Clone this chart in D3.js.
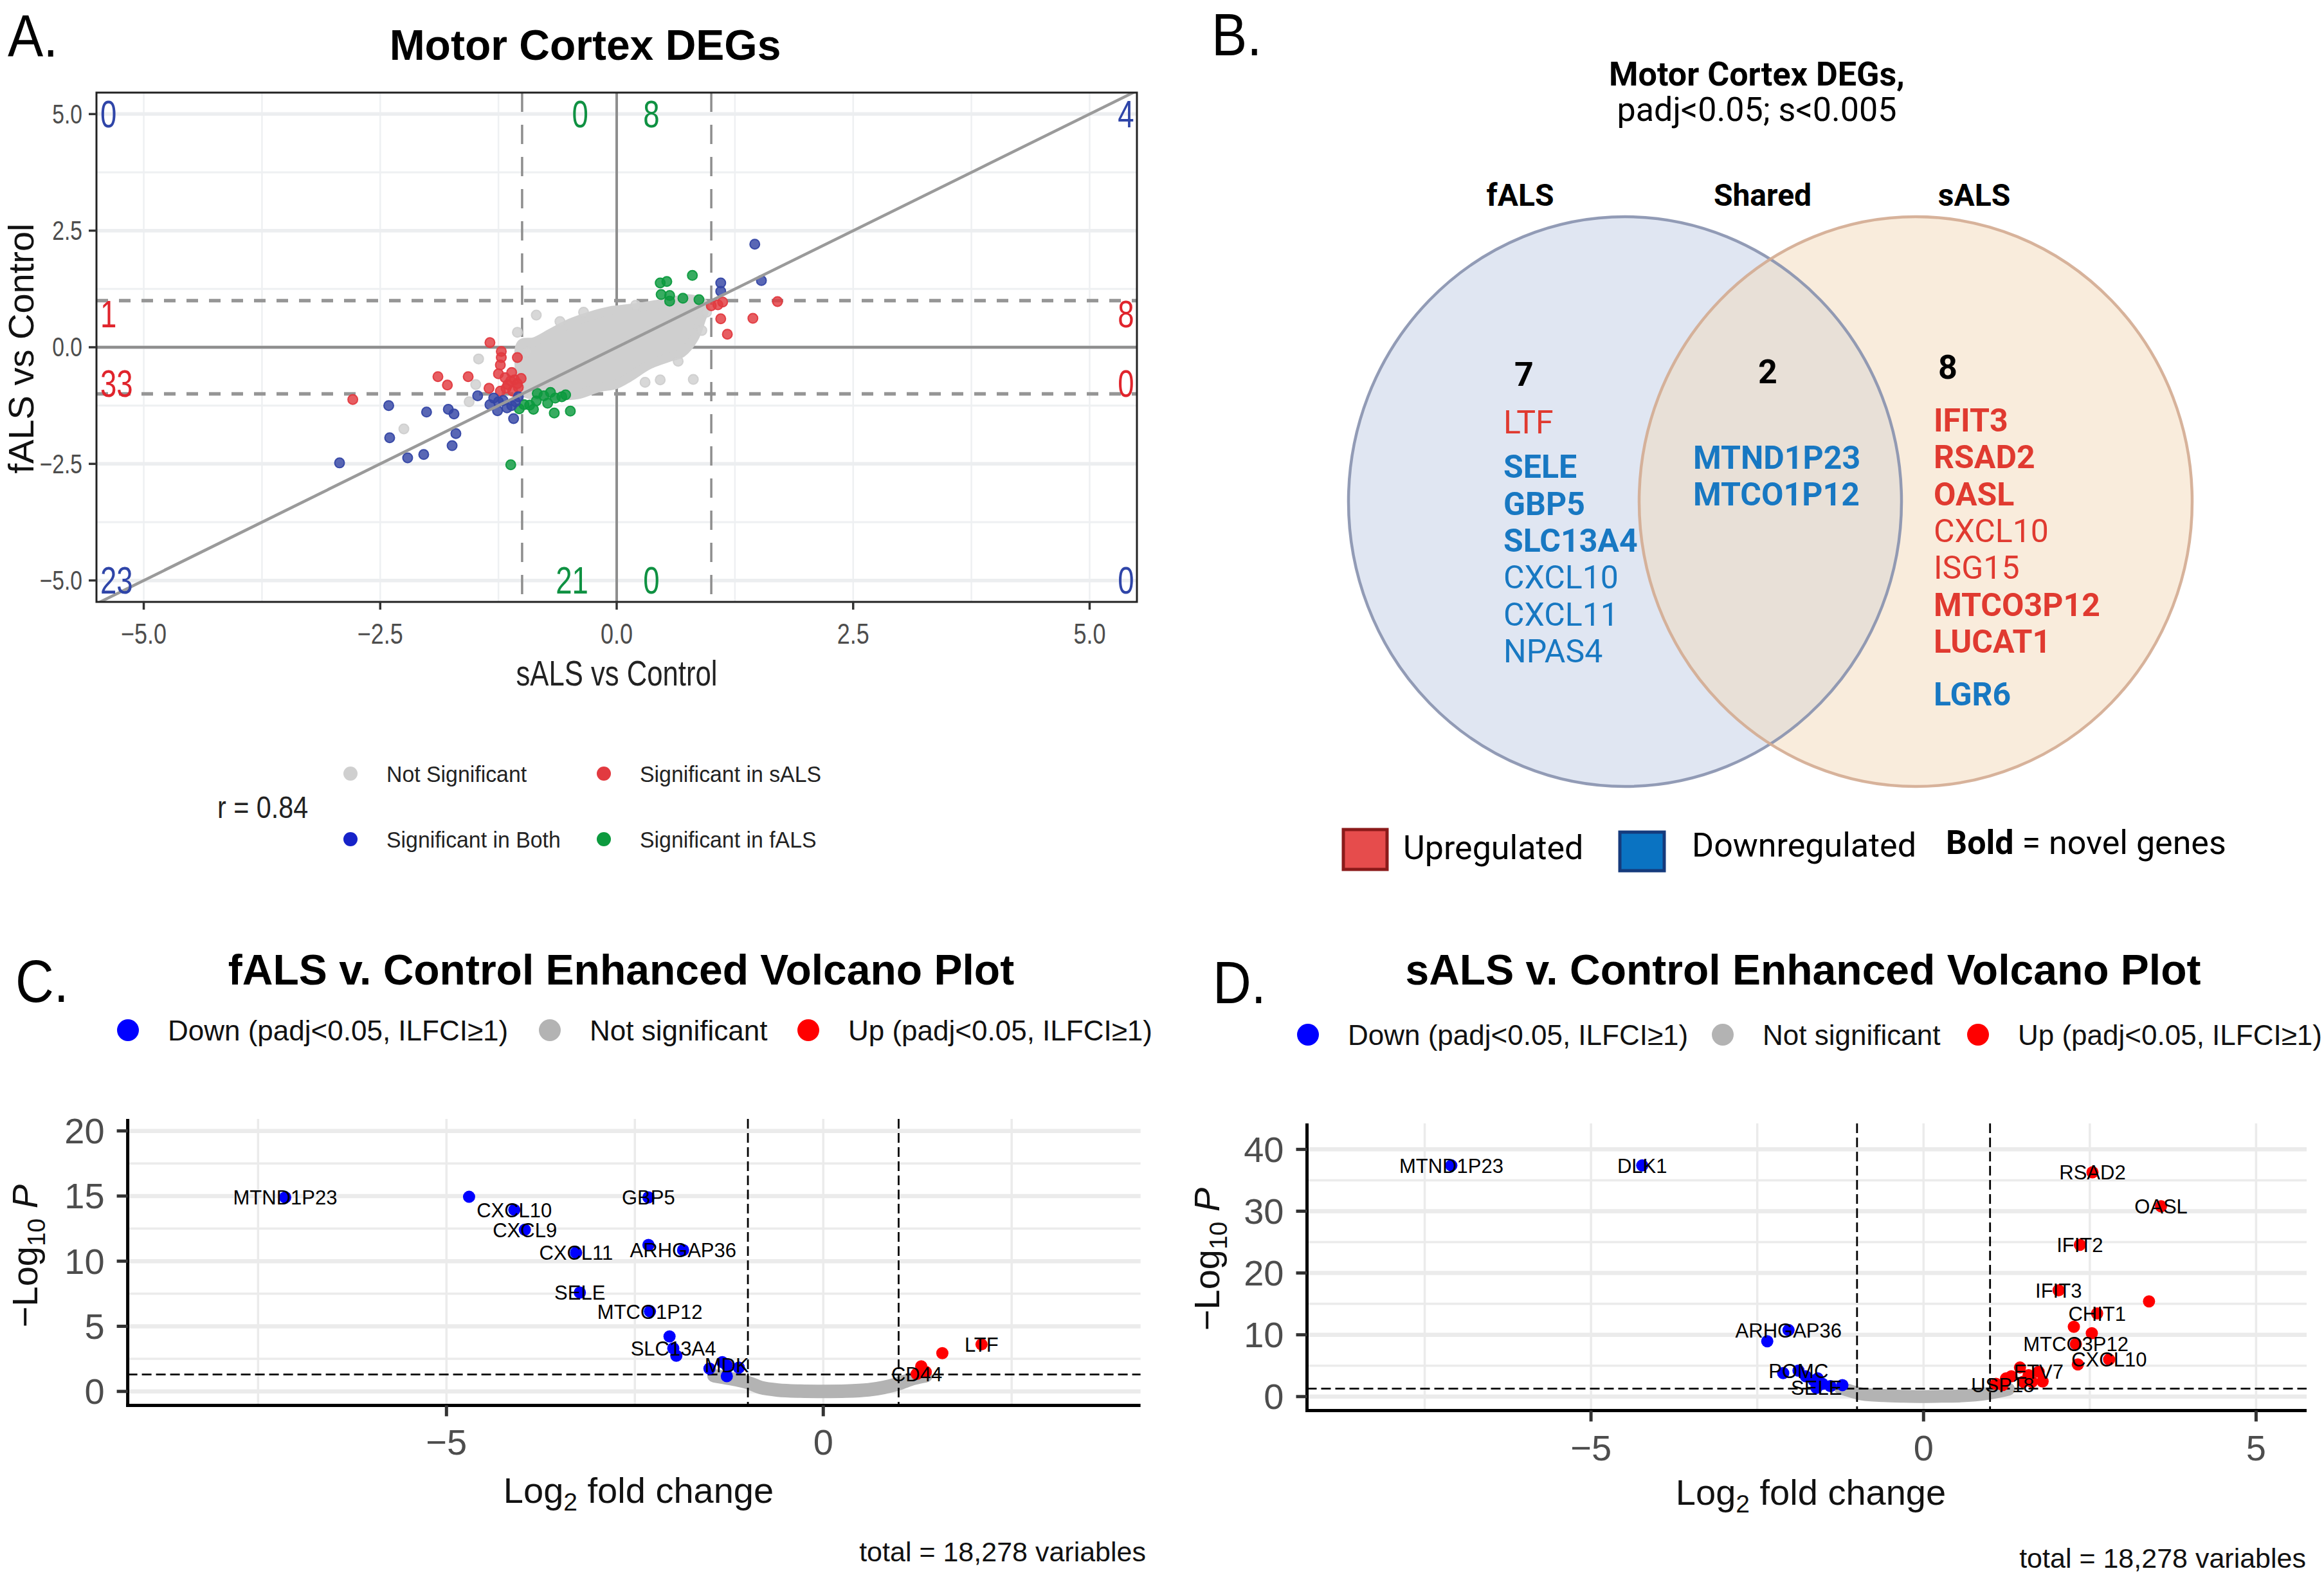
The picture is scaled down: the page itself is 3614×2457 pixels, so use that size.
<!DOCTYPE html>
<html>
<head>
<meta charset="utf-8">
<script src="https://cdn.jsdelivr.net/npm/d3@7"></script>
<style>body{margin:0;background:#fff}</style>
</head>
<body>
<div id="wrapper"></div>
<script>
// ---------- Panel A: log2FC sALS vs Control (x) against fALS vs Control (y)
const scatterTicks = [-5, -2.5, 0, 2.5, 5];
const sigBoth = [[1.46,2.21],[1.53,1.43],[1.10,1.38],[1.10,1.20],
  [-2.93,-2.48],[-2.41,-1.25],[-2.40,-1.94],[-2.21,-2.37],[-2.04,-2.30],[-2.01,-1.39],
  [-1.78,-1.33],[-1.72,-1.43],[-1.70,-1.85],[-1.74,-2.11],[-1.47,-1.04],[-1.30,-1.09],
  [-1.34,-1.23],[-1.26,-1.36],[-1.09,-1.53],[-1.11,-1.25],[-1.20,-1.14],[-1.04,-1.06],
  [-1.16,-1.30],[-1.25,-1.17],[-1.07,-1.17]];
const sigSALS = [[-2.79,-1.12],[-1.89,-0.63],[-1.79,-0.81],[-1.57,-0.63],[-1.34,0.10],
  [-1.22,-0.09],[-1.22,-0.22],[-1.05,-0.22],[-1.23,-0.38],[-1.25,-0.57],[-1.11,-0.54],
  [-1.08,-0.70],[-1.01,-0.67],[-1.15,-0.80],[-1.04,-0.86],[-1.35,-0.88],[-1.23,-0.94],
  [-1.10,-0.94],[-1.18,-0.65],[-1.12,-0.72],[-1.05,-0.78],[-1.17,-0.88],
  [1.00,0.89],[1.07,0.91],[1.12,0.97],[1.70,0.98],[1.10,0.61],[1.44,0.62],[1.17,0.28]];
const sigFALS = [[0.80,1.54],[0.46,1.38],[0.53,1.41],[0.47,1.13],[0.56,1.11],[0.56,0.99],
  [0.70,1.05],[0.87,1.02],[-1.12,-2.52],[-1.03,-1.32],[-0.92,-1.24],[-0.88,-1.33],
  [-0.84,-0.99],[-0.77,-1.04],[-0.73,-1.20],[-0.66,-1.41],[-0.65,-1.09],[-0.58,-1.06],
  [-0.54,-1.02],[-0.49,-1.37],[-0.70,-0.97],[-0.98,-1.23],[-0.85,-1.15]];
const notSig = [[-0.85,0.69],[-1.05,0.32],[-1.46,-0.25],[-1.49,-0.80],[-1.56,-1.17],
  [-2.25,-1.75],[0.81,-0.69],[0.46,-0.70],[0.65,-0.30],[0.90,0.36],[-0.60,0.55],
  [-0.35,0.75],[0.20,0.90],[0.95,0.75],[-0.95,-0.10],[0.30,-0.75]];
// outline of the dense cloud of non-significant genes
const notSigCloud = [[-1.01,0.07],[-0.87,0.12],[-0.70,0.30],[-0.49,0.52],[-0.28,0.67],
  [-0.07,0.78],[0.13,0.83],[0.34,0.89],[0.55,0.97],[0.76,1.04],[0.93,0.91],[0.89,0.57],
  [0.82,0.20],[0.69,-0.12],[0.55,-0.22],[0.34,-0.38],[0.13,-0.65],[-0.01,-0.80],
  [-0.18,-0.86],[-0.42,-1.02],[-0.70,-1.04],[-0.91,-1.02],[-1.01,-0.91],[-1.03,-0.49]];
const quadCounts = [
  {x:-5.46, y:5, n:"0", k:"both", a:"start"}, {x:-0.30, y:5, n:"0", k:"fals", a:"end"},
  {x:0.28, y:5, n:"8", k:"fals", a:"start"}, {x:5.47, y:5, n:"4", k:"both", a:"end"},
  {x:-5.46, y:0.72, n:"1", k:"sals", a:"start"}, {x:5.47, y:0.72, n:"8", k:"sals", a:"end"},
  {x:-5.46, y:-0.77, n:"33", k:"sals", a:"start"}, {x:5.47, y:-0.77, n:"0", k:"sals", a:"end"},
  {x:-5.46, y:-5, n:"23", k:"both", a:"start"}, {x:-0.30, y:-5, n:"21", k:"fals", a:"end"},
  {x:0.28, y:-5, n:"0", k:"fals", a:"start"}, {x:5.47, y:-5, n:"0", k:"both", a:"end"}];
const correlation = 0.84;

// ---------- Panel B: Venn lists
const fALSOnly = [{g:"LTF",d:"up",b:false},{g:"SELE",d:"down",b:true},{g:"GBP5",d:"down",b:true},
  {g:"SLC13A4",d:"down",b:true},{g:"CXCL10",d:"down",b:false},{g:"CXCL11",d:"down",b:false},
  {g:"NPAS4",d:"down",b:false}];
const sharedGenes = [{g:"MTND1P23",d:"down",b:true},{g:"MTCO1P12",d:"down",b:true}];
const sALSOnly = [{g:"IFIT3",d:"up",b:true},{g:"RSAD2",d:"up",b:true},{g:"OASL",d:"up",b:true},
  {g:"CXCL10",d:"up",b:false},{g:"ISG15",d:"up",b:false},{g:"MTCO3P12",d:"up",b:true},
  {g:"LUCAT1",d:"up",b:true},{g:"LGR6",d:"down",b:true}];

// ---------- Panel C: fALS v. Control volcano (log2FC, -log10 P)
const fDown = [{x:-7.14,y:14.9,l:"MTND1P23"},{x:-4.70,y:14.94},{x:-4.10,y:13.94,l:"CXCL10"},
  {x:-3.96,y:12.41,l:"CXCL9"},{x:-3.28,y:10.65,l:"CXCL11"},{x:-2.32,y:14.9,l:"GBP5"},
  {x:-2.32,y:11.24},{x:-1.86,y:10.85,l:"ARHGAP36"},{x:-3.23,y:7.59,l:"SELE"},
  {x:-2.30,y:6.14,l:"MTCO1P12"},{x:-2.04,y:4.22},{x:-1.99,y:3.31,l:"SLC13A4"},
  {x:-1.95,y:2.74},{x:-1.51,y:1.75},{x:-1.34,y:2.25},{x:-1.28,y:2.0,l:"MDK"},
  {x:-1.12,y:1.83},{x:-1.28,y:1.17}];
const fUp = [{x:2.10,y:3.61,l:"LTF"},{x:1.58,y:2.94},{x:1.30,y:1.92},{x:1.36,y:1.5},
  {x:1.24,y:1.34,l:"CD44"}];
const fNS = [[-1.45,1.2],[-1.25,1.0],[-1.0,0.68],[-0.83,0.3],[-0.6,0.1],[-0.3,0.02],[0,0],
  [0.3,0.02],[0.6,0.12],[0.8,0.3],[1.0,0.6],[1.2,1.0],[1.36,1.2]];

// ---------- Panel D: sALS v. Control volcano
const sDown = [{x:-7.10,y:37.4,l:"MTND1P23"},{x:-4.23,y:37.4,l:"DLK1"},
  {x:-2.03,y:10.76,l:"ARHGAP36"},{x:-2.35,y:8.95},{x:-2.11,y:3.80},{x:-1.88,y:4.2,l:"POMC"},
  {x:-1.77,y:3.28},{x:-1.65,y:2.6},{x:-1.59,y:2.93},{x:-1.52,y:2.07},{x:-1.40,y:1.7},
  {x:-1.22,y:1.86},{x:-1.61,y:1.4,l:"SELE"}];
const sUp = [{x:2.54,y:36.3,l:"RSAD2"},{x:3.57,y:30.8,l:"OASL"},{x:2.35,y:24.55,l:"IFIT2"},
  {x:2.03,y:17.2,l:"IFIT3"},{x:3.39,y:15.4},{x:2.61,y:13.45,l:"CHIT1"},{x:2.26,y:11.3},
  {x:2.53,y:10.26},{x:2.29,y:8.5,l:"MTCO3P12"},{x:2.79,y:6.0,l:"CXCL10"},{x:2.32,y:5.2},
  {x:1.45,y:4.7},{x:1.79,y:2.45},{x:1.09,y:2.07},{x:1.24,y:2.93},{x:1.32,y:3.28},
  {x:1.50,y:2.4},{x:1.58,y:3.46},{x:1.63,y:2.4},{x:1.73,y:4.0,l:"ETV7"},{x:1.19,y:1.88,l:"USP18"}];
const sNS = [[-1.25,1.4],[-1.1,0.9],[-0.92,0.4],[-0.6,0.15],[-0.3,0.05],[0,0],[0.3,0.05],
  [0.63,0.15],[0.9,0.4],[1.07,0.7],[1.28,1.2]];

const legendLabels = ["Down (padj<0.05, ILFCI\u22651)", "Not significant", "Up (padj<0.05, ILFCI\u22651)"];
const totalVariables = 18278;

// ------------------------------------------------------------------
const W = 3614, H = 2457;
const SANS = "'Liberation Sans', Arial, Helvetica, sans-serif";
const ROBOTO = "Roboto, 'Liberation Sans', sans-serif";
const NARROW = 0.8; // horizontal squeeze used for the condensed labels of panel A

const svg = d3.select("#wrapper").append("svg")
  .attr("width", W).attr("height", H)
  .style("background", "#fff");

function txt(g, x, y, s, o = {}) {
  const t = g.append("text")
    .attr("font-family", o.family || SANS)
    .attr("font-size", o.size || 40)
    .attr("font-weight", o.weight || "normal")
    .attr("fill", o.fill || "#000")
    .attr("text-anchor", o.anchor || "start")
    .attr("dominant-baseline", o.base || "auto")
    .text(s);
  if (o.sx) t.attr("transform", `translate(${x},${y}) scale(${o.sx},1)`);
  else t.attr("x", x).attr("y", y);
  return t;
}

// =================== Panel A ===================
const gA = svg.append("g");
const ax = d3.scaleLinear().domain([-5.5, 5.5]).range([150, 1768]);
const ay = d3.scaleLinear().domain([-5.46, 5.46]).range([936, 144]);
const minorA = d3.pairs(scatterTicks).map(p => (p[0] + p[1]) / 2);
const colA = {both: "#3446a5", sals: "#e23a40", fals: "#0c9a3e", ns: "#cfcfcf"};
const cntCol = {both: "#2f45a8", sals: "#e0242c", fals: "#0f9142"};

gA.append("clipPath").attr("id", "clipA").append("rect")
  .attr("x", ax(-5.5)).attr("y", ay(5.46)).attr("width", ax(5.5) - ax(-5.5)).attr("height", ay(-5.46) - ay(5.46));

const gridA = gA.append("g");
gridA.selectAll(".vmin").data(minorA.concat(scatterTicks)).join("line")
  .attr("x1", d => ax(d)).attr("x2", d => ax(d)).attr("y1", ay(5.46)).attr("y2", ay(-5.46))
  .attr("stroke", "#eef0f2").attr("stroke-width", 2.5);
gridA.selectAll(".hmin").data(minorA).join("line")
  .attr("y1", d => ay(d)).attr("y2", d => ay(d)).attr("x1", ax(-5.5)).attr("x2", ax(5.5))
  .attr("stroke", "#eef0f2").attr("stroke-width", 3);
gridA.selectAll(".hmaj").data(scatterTicks).join("line")
  .attr("y1", d => ay(d)).attr("y2", d => ay(d)).attr("x1", ax(-5.5)).attr("x2", ax(5.5))
  .attr("stroke", "#eceef0").attr("stroke-width", 5.5);

const plotA = gA.append("g").attr("clip-path", "url(#clipA)");
// zero lines
plotA.append("line").attr("x1", ax(0)).attr("x2", ax(0)).attr("y1", ay(5.46)).attr("y2", ay(-5.46))
  .attr("stroke", "#8e8e8e").attr("stroke-width", 4);
plotA.append("line").attr("y1", ay(0)).attr("y2", ay(0)).attr("x1", ax(-5.5)).attr("x2", ax(5.5))
  .attr("stroke", "#8e8e8e").attr("stroke-width", 4.5);
// thresholds
[-1, 1].forEach(v => {
  plotA.append("line").attr("x1", ax(v)).attr("x2", ax(v)).attr("y1", ay(5.46)).attr("y2", ay(-5.46))
    .attr("stroke", "#8e8e8e").attr("stroke-width", 3.5).attr("stroke-dasharray", "30,20");
  plotA.append("line").attr("y1", ay(v)).attr("y2", ay(v)).attr("x1", ax(-5.5)).attr("x2", ax(5.5))
    .attr("stroke", "#969696").attr("stroke-width", 5.5).attr("stroke-dasharray", "18,17");
});
// cloud
plotA.append("path").datum(notSigCloud)
  .attr("d", d3.line().x(d => ax(d[0])).y(d => ay(d[1])).curve(d3.curveCatmullRomClosed))
  .attr("fill", colA.ns).attr("stroke", colA.ns).attr("stroke-width", 14).attr("stroke-linejoin", "round");
function dotsA(data, c) {
  plotA.append("g").selectAll("circle").data(data).join("circle")
    .attr("cx", d => ax(d[0])).attr("cy", d => ay(d[1])).attr("r", 7.5)
    .attr("fill", c).attr("fill-opacity", 0.82)
    .attr("stroke", c).attr("stroke-width", 2).attr("stroke-opacity", 0.95);
}
dotsA(notSig, colA.ns);
dotsA(sigSALS, colA.sals);
dotsA(sigFALS, colA.fals);
dotsA(sigBoth, colA.both);
// identity line
plotA.append("line").attr("x1", ax(-5.5)).attr("y1", ay(-5.5)).attr("x2", ax(5.5)).attr("y2", ay(5.5))
  .attr("stroke", "#9a9a9a").attr("stroke-width", 4.5);
// counts
quadCounts.forEach(q => {
  txt(gA, ax(q.x), ay(q.y), q.n, {size: 60, sx: 0.76, fill: cntCol[q.k], anchor: q.a, base: "central"});
});
// border
gA.append("rect").attr("x", ax(-5.5)).attr("y", ay(5.46)).attr("width", ax(5.5) - ax(-5.5))
  .attr("height", ay(-5.46) - ay(5.46)).attr("fill", "none").attr("stroke", "#222").attr("stroke-width", 3);
// ticks
const fmtA = d3.format(".1f");
scatterTicks.forEach(t => {
  gA.append("line").attr("x1", ax(t)).attr("x2", ax(t)).attr("y1", ay(-5.46)).attr("y2", ay(-5.46) + 12)
    .attr("stroke", "#333").attr("stroke-width", 3.5);
  txt(gA, ax(t), 1001, fmtA(t), {size: 45, sx: NARROW, fill: "#4d4d4d", anchor: "middle"});
  gA.append("line").attr("x1", ax(-5.5) - 12).attr("x2", ax(-5.5)).attr("y1", ay(t)).attr("y2", ay(t))
    .attr("stroke", "#333").attr("stroke-width", 3.5);
  txt(gA, 128, ay(t), fmtA(t), {size: 42, sx: NARROW, fill: "#4d4d4d", anchor: "end", base: "central"});
});
txt(gA, 959, 1066, "sALS vs Control", {size: 56, sx: 0.78, fill: "#222", anchor: "middle"});
txt(gA, 0, 0, "fALS vs Control", {size: 56, fill: "#111", anchor: "middle"})
  .attr("transform", "translate(52,542) rotate(-90)");
txt(gA, 910, 93, "Motor Cortex DEGs", {size: 66, weight: "bold", anchor: "middle"});
txt(gA, 12, 88, "A.", {size: 92, sx: 0.9});
// legend
txt(gA, 338, 1272, "r = " + correlation, {size: 48, sx: 0.86, fill: "#222"});
const legA = [["Not Significant", colA.ns, 545, 1203], ["Significant in sALS", colA.sals, 939, 1203],
  ["Significant in Both", "#1622c8", 545, 1305], ["Significant in fALS", colA.fals, 939, 1305]];
legA.forEach(l => {
  gA.append("circle").attr("cx", l[2]).attr("cy", l[3]).attr("r", 11).attr("fill", l[1]);
  txt(gA, l[2] + 56, l[3], l[0], {size: 36, sx: 0.94, fill: "#222", base: "central"});
});

// =================== Panel B ===================
const gB = svg.append("g");
txt(gB, 1884, 86, "B.", {size: 92, sx: 0.9});
txt(gB, 2732, 133, "Motor Cortex DEGs,", {family: ROBOTO, size: 52, weight: "bold", anchor: "middle"});
txt(gB, 2732, 188, "padj<0.05; s<0.005", {family: ROBOTO, size: 52, anchor: "middle"});
const vL = {cx: 2527, cy: 780}, vR = {cx: 2979, cy: 780}, rx = 430, ry = 443;
gB.append("clipPath").attr("id", "clipL").append("ellipse")
  .attr("cx", vL.cx).attr("cy", vL.cy).attr("rx", rx).attr("ry", ry);
gB.append("ellipse").attr("cx", vL.cx).attr("cy", vL.cy).attr("rx", rx).attr("ry", ry).attr("fill", "#e0e6f2");
gB.append("ellipse").attr("cx", vR.cx).attr("cy", vR.cy).attr("rx", rx).attr("ry", ry).attr("fill", "#f9ecdc");
gB.append("ellipse").attr("cx", vR.cx).attr("cy", vR.cy).attr("rx", rx).attr("ry", ry)
  .attr("fill", "#e8e0d7").attr("clip-path", "url(#clipL)");
gB.append("ellipse").attr("cx", vL.cx).attr("cy", vL.cy).attr("rx", rx).attr("ry", ry)
  .attr("fill", "none").attr("stroke", "#8791ae").attr("stroke-width", 4.5).attr("stroke-opacity", 0.9);
gB.append("ellipse").attr("cx", vR.cx).attr("cy", vR.cy).attr("rx", rx).attr("ry", ry)
  .attr("fill", "none").attr("stroke", "#d3ab91").attr("stroke-width", 4.5).attr("stroke-opacity", 0.9);

txt(gB, 2364, 320, "fALS", {family: ROBOTO, size: 48, weight: "bold", anchor: "middle"});
txt(gB, 2741, 320, "Shared", {family: ROBOTO, size: 48, weight: "bold", anchor: "middle"});
txt(gB, 3070, 320, "sALS", {family: ROBOTO, size: 48, weight: "bold", anchor: "middle"});
txt(gB, 2370, 600, fALSOnly.length, {family: ROBOTO, size: 52, weight: "bold", anchor: "middle"});
txt(gB, 2749, 596, sharedGenes.length, {family: ROBOTO, size: 52, weight: "bold", anchor: "middle"});
txt(gB, 3029, 589, sALSOnly.length, {family: ROBOTO, size: 52, weight: "bold", anchor: "middle"});
const dirCol = {up: "#e03a30", down: "#1878c2"};
function geneCol(list, x, y0, gap) {
  let y = y0;
  list.forEach((d, i) => {
    if (i > 0) y += 57.3 + (list[i - 1].d !== d.d ? gap : 0);
    txt(gB, x, y, d.g, {family: ROBOTO, size: 50, weight: d.b ? "bold" : "normal", fill: dirCol[d.d]});
  });
}
geneCol(fALSOnly, 2338, 674, 12);
geneCol(sharedGenes, 2633, 729, 0);
geneCol(sALSOnly, 3007, 671, 25);
// legend
gB.append("rect").attr("x", 2089).attr("y", 1290).attr("width", 68).attr("height", 62)
  .attr("fill", "#e64c4c").attr("stroke", "#8b1a1a").attr("stroke-width", 5);
txt(gB, 2182, 1336, "Upregulated", {family: ROBOTO, size: 52});
gB.append("rect").attr("x", 2519).attr("y", 1294).attr("width", 69).attr("height", 60)
  .attr("fill", "#0a73c2").attr("stroke", "#153a7c").attr("stroke-width", 5);
txt(gB, 2631, 1332, "Downregulated", {family: ROBOTO, size: 52});
const nb = txt(gB, 3026, 1328, "", {family: ROBOTO, size: 52});
nb.append("tspan").attr("font-weight", "bold").text("Bold");
nb.append("tspan").text(" = novel genes");

// =================== Panels C and D ===================
function volcano(o) {
  const g = svg.append("g");
  const x = d3.scaleLinear().domain(o.xd).range(o.xr);
  const y = d3.scaleLinear().domain(o.yd).range(o.yr);
  const x0 = o.xr[0], x1 = o.xr[1], yb = o.yr[0], yt = o.yr[1];
  const xMinor = d3.pairs(o.xt).map(p => (p[0] + p[1]) / 2).concat([o.xt[0] - 2.5]);
  if (o.xt[o.xt.length - 1] + 2.5 < o.xd[1]) xMinor.push(o.xt[o.xt.length - 1] + 2.5);
  const yMinor = d3.pairs(o.yt).map(p => (p[0] + p[1]) / 2);

  txt(g, o.letterX, o.letterY, o.letter, {size: 92, sx: 0.9});
  txt(g, o.titleX, 1531, o.title, {size: 66, weight: "bold", anchor: "middle"});

  // legend
  const cols = ["#0000ff", "#b3b3b3", "#ff0000"];
  legendLabels.forEach((s, i) => {
    g.append("circle").attr("cx", o.legX[i]).attr("cy", o.legY).attr("r", 17).attr("fill", cols[i]);
    txt(g, o.legX[i] + 62, o.legY, s, {size: 44, fill: "#111", base: "central"});
  });

  // grid
  g.selectAll(".gv").data(o.xt.concat(xMinor)).join("line")
    .attr("x1", d => x(d)).attr("x2", d => x(d)).attr("y1", yt).attr("y2", yb)
    .attr("stroke", "#ebebeb").attr("stroke-width", 3.5);
  g.selectAll(".gm").data(yMinor).join("line")
    .attr("x1", x0).attr("x2", x1).attr("y1", d => y(d)).attr("y2", d => y(d))
    .attr("stroke", "#ebebeb").attr("stroke-width", 3.5);
  g.selectAll(".gM").data(o.yt).join("line")
    .attr("x1", x0).attr("x2", x1).attr("y1", d => y(d)).attr("y2", d => y(d))
    .attr("stroke", "#ebebeb").attr("stroke-width", 6.5);

  // non-significant genes
  g.append("path").datum(o.ns)
    .attr("d", d3.line().x(d => x(d[0])).y(d => y(d[1])).curve(d3.curveCatmullRom))
    .attr("fill", "none").attr("stroke", "#b3b3b3").attr("stroke-width", o.band)
    .attr("stroke-linecap", "round").attr("stroke-linejoin", "round");

  // cut-offs
  [-1, 1].forEach(v => g.append("line").attr("x1", x(v)).attr("x2", x(v)).attr("y1", yt).attr("y2", yb)
    .attr("stroke", "#000").attr("stroke-width", 2.8).attr("stroke-dasharray", "15,7"));
  g.append("line").attr("x1", x0).attr("x2", x1).attr("y1", y(-Math.log10(0.05))).attr("y2", y(-Math.log10(0.05)))
    .attr("stroke", "#000").attr("stroke-width", 2.8).attr("stroke-dasharray", "15,7");

  // points
  [[o.down, cols[0]], [o.up, cols[2]]].forEach(([data, c]) => {
    g.append("g").selectAll("circle").data(data).join("circle")
      .attr("cx", d => x(d.x)).attr("cy", d => y(d.y)).attr("r", 9.5).attr("fill", c);
  });
  // labels
  const lab = o.down.concat(o.up).filter(d => d.l);
  g.append("g").selectAll("text").data(lab).join("text")
    .attr("x", d => x(d.x)).attr("y", d => y(d.y)).attr("dy", "0.36em")
    .attr("text-anchor", "middle").attr("font-family", SANS).attr("font-size", 31).attr("fill", "#000")
    .text(d => d.l);

  // axes
  g.append("line").attr("x1", x0).attr("x2", x0).attr("y1", yt).attr("y2", yb + 2.5)
    .attr("stroke", "#000").attr("stroke-width", 5);
  g.append("line").attr("x1", x0 - 2.5).attr("x2", x1).attr("y1", yb).attr("y2", yb)
    .attr("stroke", "#000").attr("stroke-width", 5);
  o.yt.forEach(t => {
    g.append("line").attr("x1", x0 - 17).attr("x2", x0).attr("y1", y(t)).attr("y2", y(t))
      .attr("stroke", "#333").attr("stroke-width", 5);
    txt(g, x0 - 36, y(t), t, {size: 56, fill: "#4d4d4d", anchor: "end", base: "central"});
  });
  const fmt = d3.format("d");
  o.xt.filter(t => t % 5 === 0).forEach(t => {
    g.append("line").attr("x1", x(t)).attr("x2", x(t)).attr("y1", yb).attr("y2", yb + 17)
      .attr("stroke", "#333").attr("stroke-width", 5);
    txt(g, x(t), yb + 77, fmt(t), {size: 56, fill: "#4d4d4d", anchor: "middle"});
  });
  const xl = txt(g, o.xTitleX, o.xTitleY, "", {size: 56, anchor: "middle", fill: "#111"});
  xl.append("tspan").text("Log");
  xl.append("tspan").attr("font-size", 39).attr("dy", 12).text("2");
  xl.append("tspan").attr("dy", -12).text(" fold change");
  const yl = txt(g, 0, 0, "", {size: 56, anchor: "middle", fill: "#111"})
    .attr("transform", `translate(${o.yTitleX},${o.yTitleY}) rotate(-90)`);
  yl.append("tspan").text("\u2212Log");
  yl.append("tspan").attr("font-size", 39).attr("dy", 12).text("10");
  yl.append("tspan").attr("dy", -12).text(" ");
  yl.append("tspan").attr("font-style", "italic").text("P");
  txt(g, o.capX, o.capY, "total = " + d3.format(",")(totalVariables) + " variables", {size: 43, anchor: "end", fill: "#111"});
}

volcano({
  letter: "C.", letterX: 24, letterY: 1558, title: "fALS v. Control Enhanced Volcano Plot", titleX: 966,
  legX: [199, 855, 1257], legY: 1602,
  xd: [-9.23, 4.21], xr: [198.6, 1773.6], yd: [-1.07, 20.92], yr: [2185.4, 1740],
  xt: [-5, 0], yt: [0, 5, 10, 15, 20],
  down: fDown, up: fUp, ns: fNS, band: 21,
  xTitleX: 993, xTitleY: 2337, yTitleX: 58, yTitleY: 1953, capX: 1782, capY: 2428
});
volcano({
  letter: "D.", letterX: 1886, letterY: 1560, title: "sALS v. Control Enhanced Volcano Plot", titleX: 2804,
  legX: [2034, 2679, 3076], legY: 1609,
  xd: [-9.27, 5.76], xr: [2032.5, 3587], yd: [-2.26, 44.2], yr: [2193.5, 1747],
  xt: [-5, 0, 5], yt: [0, 10, 20, 30, 40],
  down: sDown, up: sUp, ns: sNS, band: 20,
  xTitleX: 2816, xTitleY: 2340, yTitleX: 1896, yTitleY: 1958, capX: 3586, capY: 2438
});
</script>
</body>
</html>
